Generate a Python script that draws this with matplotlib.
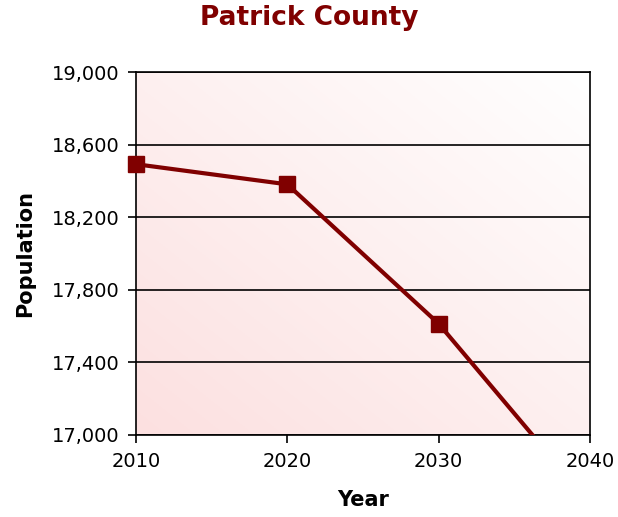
import matplotlib
matplotlib.use("Agg")
import matplotlib.pyplot as plt
import numpy as np
from matplotlib.ticker import FuncFormatter

years = [2010, 2020, 2030, 2040]
population = [18492, 18381, 17613, 16624]
title = "Patrick County"
xlabel = "Year"
ylabel = "Population"

dark = "#800000"
fig = plt.figure(figsize=(6.18, 5.17), dpi=100)
ax = fig.add_axes([136/618, 1-435/517, (590-136)/618, (435-72)/517])

ymin, ymax = 17000, 19000
# gradient background
n = 200
gx, gy = np.meshgrid(np.linspace(0, 1, n), np.linspace(0, 1, n))
t = np.clip(((1 - gx) + (1 - gy)) / 2, 0, 1)
c0 = np.array([1.0, 1.0, 1.0])
c1 = np.array([252/255, 224/255, 224/255])
img = c0[None, None, :] * (1 - t[..., None]) + c1[None, None, :] * t[..., None]
ax.imshow(img, extent=[2010, 2040, ymin, ymax], origin="lower", aspect="auto", zorder=0)

ax.set_xlim(2010, 2040)
ax.set_ylim(ymin, ymax)
ax.set_yticks(np.arange(17000, 19001, 400))
ax.set_xticks(years)
ax.yaxis.set_major_formatter(FuncFormatter(lambda v, p: f"{int(v):,}"))
ax.grid(axis="y", color="black", linewidth=1.2, zorder=1)
ax.plot(years, population, color=dark, linewidth=3, zorder=3)
inr = [(x, y) for x, y in zip(years, population) if ymin <= y <= ymax]
ax.plot([p[0] for p in inr], [p[1] for p in inr], linestyle="none", marker="s",
        markersize=11, color=dark, zorder=4, clip_on=False)

for s in ax.spines.values():
    s.set_linewidth(1.2)
ax.tick_params(axis="both", labelsize=14, length=6, width=1.2, colors="black")
ax.tick_params(axis="x", pad=6)
ax.tick_params(axis="y", pad=6)
ax.set_xlabel(xlabel, fontsize=15, fontweight="bold", labelpad=14)
ax.set_ylabel(ylabel, fontsize=15, fontweight="bold", labelpad=12)
fig.suptitle(title, fontsize=19, fontweight="bold", color=dark, y=0.99)

fig.savefig("out.png", dpi=100)
